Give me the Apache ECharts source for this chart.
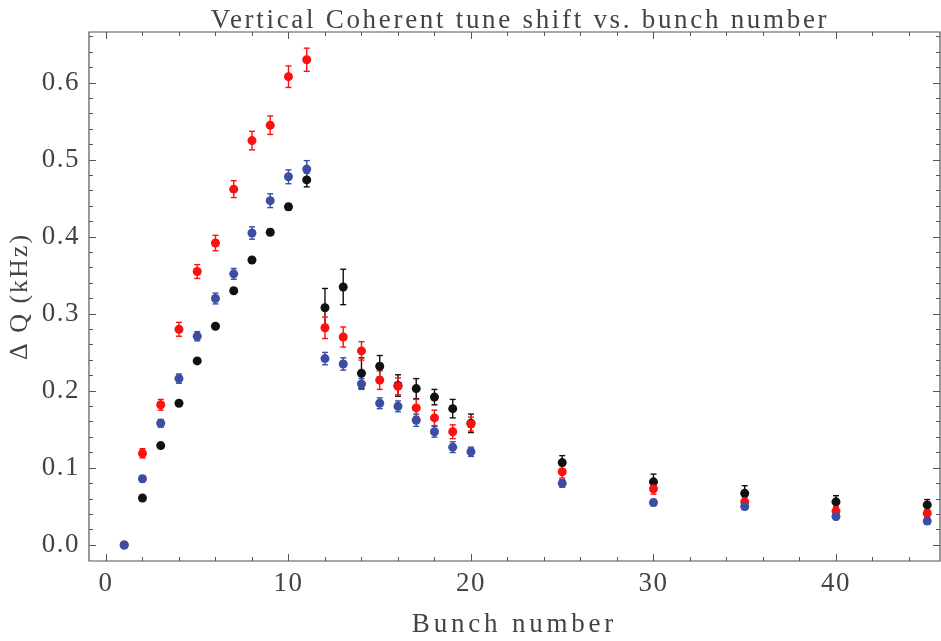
<!DOCTYPE html>
<html>
<head>
<meta charset="utf-8">
<script src="https://cdn.jsdelivr.net/npm/echarts@6/dist/echarts.min.js"></script>
<style>html,body{margin:0;padding:0;background:#fff}#c{width:941px;height:641px}</style>
</head>
<body>
<div id="c"></div>
<script>
// ---- data ----
const bunch = [1,2,3,4,5,6,7,8,9,10,11,12,13,14,15,16,17,18,19,20,25,30,35,40,45];
const redVals = [0,0.119,0.182,0.280,0.355,0.392,0.462,0.525,0.545,0.608,0.630,0.282,0.270,0.252,0.214,0.206,0.178,0.165,0.147,0.157,0.095,0.073,0.056,0.044,0.041];
const redErr  = [0,0.006,0.007,0.009,0.009,0.010,0.011,0.012,0.012,0.014,0.015,0.014,0.013,0.012,0.012,0.011,0.011,0.010,0.009,0.009,0.008,0.007,0.006,0.006,0.005];
const blueVals = [0,0.086,0.158,0.216,0.271,0.320,0.352,0.405,0.447,0.478,0.488,0.242,0.235,0.209,0.184,0.180,0.162,0.147,0.127,0.121,0.080,0.055,0.050,0.037,0.031];
const blueErr  = [0,0.004,0.005,0.006,0.006,0.007,0.007,0.008,0.009,0.009,0.011,0.008,0.008,0.007,0.007,0.007,0.008,0.007,0.007,0.006,0.005,0.004,0.004,0.004,0.004];
const blackVals = [null,0.061,0.129,0.184,0.239,0.284,0.330,0.370,0.406,0.439,0.474,0.308,0.335,0.223,0.232,0.207,0.203,0.192,0.177,0.158,0.107,0.082,0.067,0.056,0.052];
const blackErr  = [null,0.002,0.002,0.002,0.002,0.003,0.003,0.003,0.004,0.004,0.009,0.025,0.023,0.020,0.014,0.014,0.013,0.010,0.012,0.012,0.009,0.010,0.010,0.008,0.007];
const xMajorTicks = [0,10,20,30,40];
const xMinorTicks = [0,2,4,6,8,10,12,14,16,18,20,22,24,26,28,30,32,34,36,38,40,42,44];
const yMajorTicks = [0,0.1,0.2,0.3,0.4,0.5,0.6];
const yMinorTicks = [0,0.02,0.04,0.06,0.08,0.1,0.12,0.14,0.16,0.18,0.2,0.22,0.24,0.26,0.28,0.3,0.32,0.34,0.36,0.38,0.4,0.42,0.44,0.46,0.48,0.5,0.52,0.54,0.56,0.58,0.6,0.62,0.64,0.66];

const titleText = 'Vertical Coherent tune shift vs. bunch number';
const xName = 'Bunch number';
const yName = '\u0394 Q (kHz)';

// ---- styles ----
const FONT = 'Liberation Serif';
const TXT = '#444';
const FRAME = '#555';
const colRed = '#ff1010', colBlue = '#3b4ea3', colBlack = '#111111';
const X_MIN = -0.93, X_MAX = 45.7, Y_MIN = -0.0208, Y_MAX = 0.666;

// Mimic the wide letter spacing of the original typesetting
(function () {
  const proto = CanvasRenderingContext2D.prototype;
  const orig = proto.fillText;
  function spacing(t) {
    if (t === titleText) return '2.7px';
    if (t === xName) return '3.8px';
    if (t === yName) return '2px';
    return '1.5px';
  }
  proto.fillText = function (t, x, y, m) {
    try { this.letterSpacing = spacing(t); } catch (e) {}
    return m === undefined ? orig.call(this, t, x, y) : orig.call(this, t, x, y, m);
  };
})();

function build(vals, errs) {
  const out = [];
  for (let i = 0; i < bunch.length; i++) {
    if (vals[i] === null || vals[i] === undefined) continue;
    out.push([bunch[i], vals[i], errs[i] || 0]);
  }
  return out;
}

function errRender(color) {
  return function (params, api) {
    const x = api.value(0), y = api.value(1), e = api.value(2);
    if (!e) return null;
    const t = api.coord([x, y + e]);
    const b = api.coord([x, y - e]);
    const w = 3;
    const st = { stroke: color, lineWidth: 1.4 };
    return {
      type: 'group',
      children: [
        { type: 'line', shape: { x1: t[0], y1: t[1], x2: b[0], y2: b[1] }, style: st },
        { type: 'line', shape: { x1: t[0] - w, y1: t[1], x2: t[0] + w, y2: t[1] }, style: st },
        { type: 'line', shape: { x1: b[0] - w, y1: b[1], x2: b[0] + w, y2: b[1] }, style: st }
      ]
    };
  };
}

function xAxisDef(pos, ticks, len, labels, name) {
  return {
    type: 'value', position: pos, min: X_MIN, max: X_MAX, gridIndex: 0,
    axisLine: { show: false, onZero: false },
    splitLine: { show: false },
    axisTick: { show: true, inside: true, length: len, customValues: ticks, lineStyle: { color: FRAME, width: 1 } },
    axisLabel: labels ? { show: true, customValues: xMajorTicks, margin: 9, color: TXT, fontFamily: FONT, fontSize: 27 } : { show: false },
    name: name || '', nameLocation: 'middle', nameGap: 50,
    nameTextStyle: { color: TXT, fontFamily: FONT, fontSize: 27 }
  };
}
function yAxisDef(pos, ticks, len, labels, name) {
  return {
    type: 'value', position: pos, min: Y_MIN, max: Y_MAX, gridIndex: 0,
    axisLine: { show: false, onZero: false },
    splitLine: { show: false },
    axisTick: { show: true, inside: true, length: len, customValues: ticks, lineStyle: { color: FRAME, width: 1 } },
    axisLabel: labels ? { show: true, customValues: yMajorTicks, margin: 9, color: TXT, fontFamily: FONT, fontSize: 27, formatter: v => v.toFixed(1) } : { show: false },
    name: name || '', nameLocation: 'middle', nameGap: 56,
    nameTextStyle: { color: TXT, fontFamily: FONT, fontSize: 26 }
  };
}

const chart = echarts.init(document.getElementById('c'), null, { renderer: 'canvas' });

const series = [];
[[blackVals, blackErr, colBlack], [redVals, redErr, colRed], [blueVals, blueErr, colBlue]].forEach(([v, e, c]) => {
  series.push({ type: 'custom', xAxisIndex: 0, yAxisIndex: 0, data: build(v, e), renderItem: errRender(c), z: 2, silent: true, animation: false });
});
[[blackVals, blackErr, colBlack], [redVals, redErr, colRed], [blueVals, blueErr, colBlue]].forEach(([v, e, c]) => {
  series.push({ type: 'scatter', xAxisIndex: 0, yAxisIndex: 0, data: build(v, e).map(d => [d[0], d[1]]), symbol: 'circle', symbolSize: 9, itemStyle: { color: c, opacity: 1 }, z: 3, animation: false });
});

chart.setOption({
  backgroundColor: '#fff',
  animation: false,
  title: {
    text: titleText, left: 515, top: 2, textAlign: 'center',
    textStyle: { color: TXT, fontFamily: FONT, fontSize: 27, fontWeight: 'normal' }
  },
  grid: { left: 89, right: 1, top: 32, bottom: 80, show: true, borderColor: FRAME, borderWidth: 1.2, outerBoundsMode: 'none' },
  xAxis: [
    xAxisDef('bottom', xMajorTicks, 7, true, xName),
    xAxisDef('bottom', xMinorTicks, 4, false),
    xAxisDef('top', xMajorTicks, 7, false),
    xAxisDef('top', xMinorTicks, 4, false)
  ],
  yAxis: [
    yAxisDef('left', yMajorTicks, 7, true, yName),
    yAxisDef('left', yMinorTicks, 4, false),
    yAxisDef('right', yMajorTicks, 7, false),
    yAxisDef('right', yMinorTicks, 4, false)
  ],
  series: series
});
</script>
</body>
</html>
